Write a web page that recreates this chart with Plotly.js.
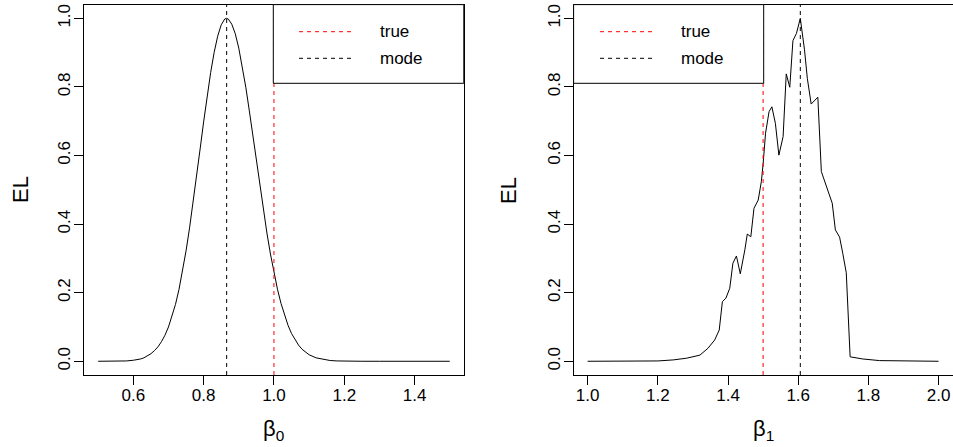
<!DOCTYPE html>
<html>
<head>
<meta charset="utf-8">
<script src="https://cdn.plot.ly/plotly-3.0.1.min.js"></script>
<style>html,body{margin:0;padding:0;background:#fff;}#plot{width:953px;height:447px;}</style>
</head>
<body>
<div id="plot"></div>
<script>
// ---- data ----
const beta0_x = [0.50,0.55,0.58,0.60,0.61,0.62,0.63,0.64,0.65,0.66,0.67,0.68,0.69,0.70,0.71,0.72,0.73,0.74,0.75,0.76,0.77,0.78,0.79,0.80,0.81,0.82,0.83,0.84,0.85,0.86,0.865,0.87,0.88,0.89,0.90,0.91,0.92,0.93,0.94,0.95,0.96,0.97,0.98,0.99,1.00,1.01,1.02,1.03,1.04,1.05,1.06,1.07,1.08,1.09,1.10,1.12,1.14,1.16,1.18,1.20,1.25,1.30,1.40,1.50];
const beta0_el = [0,0.0002,0.001,0.003,0.0045,0.0066,0.010,0.015,0.022,0.031,0.042,0.057,0.076,0.100,0.130,0.166,0.210,0.262,0.322,0.389,0.462,0.540,0.619,0.698,0.773,0.842,0.901,0.948,0.981,0.998,1.000,0.998,0.983,0.955,0.913,0.860,0.799,0.730,0.658,0.584,0.511,0.440,0.374,0.313,0.258,0.210,0.169,0.134,0.105,0.081,0.062,0.047,0.035,0.026,0.019,0.010,0.005,0.0022,0.001,0.0004,0.0001,0,0,0];

const beta1_x = [1.00,1.10,1.20,1.244,1.282,1.320,1.343,1.362,1.375,1.384,1.394,1.405,1.414,1.424,1.435,1.448,1.455,1.465,1.474,1.486,1.495,1.500,1.507,1.517,1.525,1.535,1.545,1.557,1.566,1.576,1.585,1.595,1.606,1.618,1.626,1.637,1.656,1.666,1.680,1.697,1.706,1.718,1.727,1.737,1.748,1.784,1.832,1.90,2.00];
const beta1_el = [0,0,0.001,0.004,0.009,0.018,0.038,0.062,0.091,0.174,0.184,0.213,0.286,0.307,0.255,0.325,0.371,0.363,0.446,0.470,0.524,0.575,0.665,0.728,0.742,0.694,0.601,0.655,0.838,0.799,0.935,0.956,1.000,0.908,0.825,0.750,0.770,0.553,0.509,0.461,0.383,0.362,0.315,0.258,0.013,0.0067,0.002,0.0005,0];

const true_vals = [1.0, 1.5];     // true parameter values
const mode_vals = [0.8655, 1.606]; // modes of EL
const legend_labels = ["true", "mode"];
const y_label = "EL";
const x_labels = ["β<sub>0</sub>", "β<sub>1</sub>"];

// ---- layout helpers (pixel -> paper) ----
const W = 953, H = 447;
const px = v => v / W;
const py = v => (H - v) / H;
const FONT = "Liberation Sans, Arial, Helvetica, sans-serif";

const traces = [
  {x: beta0_x, y: beta0_el, xaxis: 'x', yaxis: 'y', mode: 'lines', line: {color: 'black', width: 1}, hoverinfo: 'skip'},
  {x: beta1_x, y: beta1_el, xaxis: 'x2', yaxis: 'y2', mode: 'lines', line: {color: 'black', width: 1}, hoverinfo: 'skip'}
];

const axBase = {
  showgrid: false, zeroline: false, showline: true, mirror: true,
  linecolor: 'black', linewidth: 1,
  ticks: 'outside', ticklen: 9, tickwidth: 1, tickcolor: 'black',
  tickfont: {family: FONT, size: 17, color: 'black'},
  tickformat: '.1f', dtick: 0.2, fixedrange: true
};

const yDom = [py(375), py(4.6)];

const shapes = [];
const annotations = [];
const panels = [
  {xa: 'x', ya: 'y', legX0: 273.3, legX1: 463.8, lineX0: 299, lineX1: 352, textX: 377.7, elX: 20, xlabX: 273.5},
  {xa: 'x2', ya: 'y2', legX0: 573.6, legX1: 763.7, lineX0: 600, lineX1: 652, textX: 678.7, elX: 508, xlabX: 763}
];
panels.forEach((p, i) => {
  shapes.push({type: 'line', xref: p.xa, yref: p.ya + ' domain', x0: true_vals[i], x1: true_vals[i], y0: 0, y1: 1,
    line: {color: 'red', width: 1, dash: '4px,4px'}, layer: 'above'});
  shapes.push({type: 'line', xref: p.xa, yref: p.ya + ' domain', x0: mode_vals[i], x1: mode_vals[i], y0: 0, y1: 1,
    line: {color: 'black', width: 1, dash: '4px,4px'}, layer: 'above'});
  // legend box
  shapes.push({type: 'rect', xref: 'paper', yref: 'paper', x0: px(p.legX0), x1: px(p.legX1), y0: py(83.3), y1: py(4.6),
    fillcolor: 'white', line: {color: 'black', width: 1}, layer: 'above'});
  shapes.push({type: 'line', xref: 'paper', yref: 'paper', x0: px(p.lineX0), x1: px(p.lineX1), y0: py(31.7), y1: py(31.7),
    line: {color: 'red', width: 1, dash: '4px,4px'}, layer: 'above'});
  shapes.push({type: 'line', xref: 'paper', yref: 'paper', x0: px(p.lineX0), x1: px(p.lineX1), y0: py(58.3), y1: py(58.3),
    line: {color: 'black', width: 1, dash: '4px,4px'}, layer: 'above'});
  annotations.push({xref: 'paper', yref: 'paper', x: px(p.textX), y: py(31.7), xanchor: 'left', yanchor: 'middle',
    text: legend_labels[0], showarrow: false, font: {family: FONT, size: 17, color: 'black'}});
  annotations.push({xref: 'paper', yref: 'paper', x: px(p.textX), y: py(58.3), xanchor: 'left', yanchor: 'middle',
    text: legend_labels[1], showarrow: false, font: {family: FONT, size: 17, color: 'black'}});
  annotations.push({xref: 'paper', yref: 'paper', x: px(p.elX), y: py(190), xanchor: 'center', yanchor: 'middle',
    text: y_label, textangle: -90, showarrow: false, font: {family: FONT, size: 22, color: 'black'}});
  annotations.push({xref: 'paper', yref: 'paper', x: px(p.xlabX), y: py(430), xanchor: 'center', yanchor: 'middle',
    text: x_labels[i], showarrow: false, font: {family: FONT, size: 22, color: 'black'}});
});

const layout = {
  width: W, height: H,
  margin: {l: 0, r: 0, t: 0, b: 0, pad: 0},
  paper_bgcolor: 'white', plot_bgcolor: 'white',
  showlegend: false,
  font: {family: FONT, size: 17, color: 'black'},
  xaxis: Object.assign({}, axBase, {domain: [px(84.1), px(463.8)], range: [0.46, 1.54], anchor: 'y', ticklabelstandoff: -4}),
  yaxis: Object.assign({}, axBase, {domain: yDom, range: [-0.04, 1.04], anchor: 'x', tickangle: -90, ticklabelstandoff: -3}),
  xaxis2: Object.assign({}, axBase, {domain: [px(573.6), px(952.6)], range: [0.96, 2.04], anchor: 'y2', ticklabelstandoff: -4}),
  yaxis2: Object.assign({}, axBase, {domain: yDom, range: [-0.04, 1.04], anchor: 'x2', tickangle: -90, ticklabelstandoff: -3}),
  shapes: shapes,
  annotations: annotations
};

Plotly.newPlot('plot', traces, layout, {displayModeBar: false, staticPlot: true});
</script>
</body>
</html>
